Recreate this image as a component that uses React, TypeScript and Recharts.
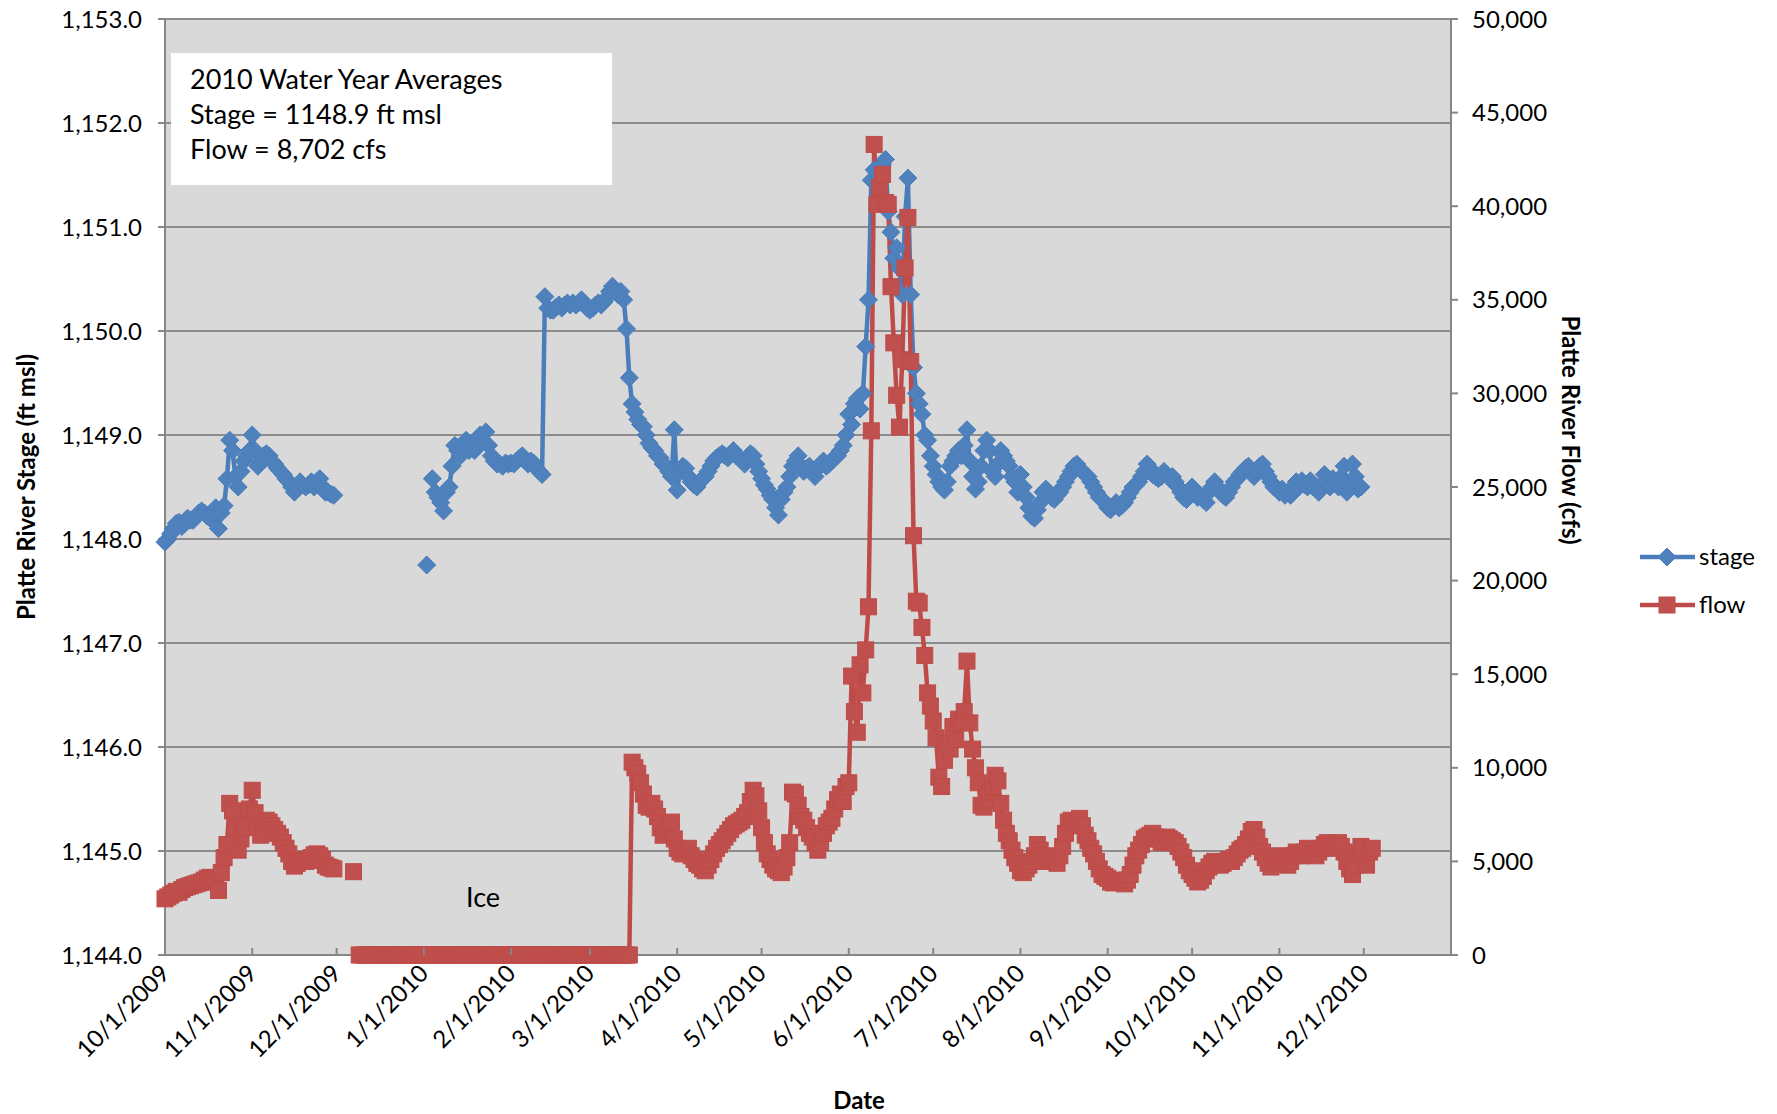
import { ComposedChart, Line, XAxis, YAxis, CartesianGrid } from 'recharts'

// day offsets from 10/1/2009 for each month start (last entry = axis end 1/1/2011)
const monthStarts = [0, 31, 61, 92, 123, 151, 182, 212, 243, 273, 304, 335, 365, 396, 426, 457]
const monthLabels = [
  '10/1/2009', '11/1/2009', '12/1/2009', '1/1/2010', '2/1/2010', '3/1/2010', '4/1/2010',
  '5/1/2010', '6/1/2010', '7/1/2010', '8/1/2010', '9/1/2010', '10/1/2010', '11/1/2010', '12/1/2010',
]

const stageTicks = [1144, 1145, 1146, 1147, 1148, 1149, 1150, 1151, 1152, 1153]
const flowTicks = [0, 5000, 10000, 15000, 20000, 25000, 30000, 35000, 40000, 45000, 50000]

// stage (ft msl), one value per day of each month
const stageOct09 = [1147.97, 1148.0, 1148.05, 1148.1, 1148.15, 1148.16, 1148.12, 1148.15, 1148.2, 1148.18, 1148.18, 1148.22, 1148.25, 1148.27, 1148.25, 1148.22, 1148.2, 1148.25, 1148.3, 1148.1, 1148.25, 1148.32, 1148.58, 1148.95, 1148.85, 1148.6, 1148.5, 1148.65, 1148.75, 1148.8, 1148.85]
const stageNov09 = [1149.0, 1148.85, 1148.7, 1148.75, 1148.8, 1148.82, 1148.8, 1148.75, 1148.72, 1148.68, 1148.65, 1148.62, 1148.58, 1148.55, 1148.5, 1148.45, 1148.5, 1148.55, 1148.52, 1148.5, 1148.52, 1148.55, 1148.5, 1148.55, 1148.58, 1148.5, 1148.45, 1148.45, 1148.43, 1148.42]
const stageDec09: (number | null)[] = []
const stageJan10 = [null, 1147.75, null, 1148.58, 1148.45, 1148.4, 1148.35, 1148.27, 1148.45, 1148.5, 1148.7, 1148.9, 1148.85, 1148.8, 1148.9, 1148.95, 1148.85, 1148.9, 1148.85, 1148.9, 1149.0, 1148.95, 1149.03, 1148.9, 1148.8, 1148.75, 1148.72, 1148.72, 1148.7, 1148.73, 1148.72]
const stageFeb10 = [1148.73, 1148.72, 1148.75, 1148.78, 1148.8, 1148.75, 1148.72, 1148.75, 1148.73, 1148.68, 1148.65, 1148.62, 1150.33, 1150.22, 1150.2, 1150.2, 1150.23, 1150.25, 1150.22, 1150.25, 1150.27, 1150.25, 1150.27, 1150.25, 1150.27, 1150.3, 1150.25, 1150.22]
const stageMar10 = [1150.2, 1150.22, 1150.25, 1150.27, 1150.25, 1150.28, 1150.32, 1150.38, 1150.43, 1150.4, 1150.35, 1150.38, 1150.3, 1150.02, 1149.55, 1149.3, 1149.22, 1149.15, 1149.1, 1149.08, 1149.0, 1148.92, 1148.88, 1148.85, 1148.8, 1148.78, 1148.72, 1148.7, 1148.65, 1148.6, 1149.05]
const stageApr10 = [1148.47, 1148.65, 1148.7, 1148.68, 1148.6, 1148.55, 1148.52, 1148.5, 1148.55, 1148.58, 1148.6, 1148.65, 1148.7, 1148.75, 1148.78, 1148.8, 1148.82, 1148.8, 1148.78, 1148.82, 1148.85, 1148.8, 1148.78, 1148.75, 1148.72, 1148.78, 1148.82, 1148.8, 1148.72, 1148.65]
const stageMay10 = [1148.58, 1148.52, 1148.48, 1148.42, 1148.38, 1148.3, 1148.23, 1148.38, 1148.45, 1148.5, 1148.6, 1148.7, 1148.75, 1148.8, 1148.7, 1148.65, 1148.68, 1148.7, 1148.65, 1148.6, 1148.68, 1148.72, 1148.75, 1148.7, 1148.72, 1148.76, 1148.78, 1148.8, 1148.85, 1148.9, 1149.0]
const stageJun10 = [1149.2, 1149.1, 1149.3, 1149.35, 1149.25, 1149.4, 1149.85, 1150.3, 1151.45, 1151.55, 1151.45, 1151.35, 1151.6, 1151.65, 1151.15, 1150.95, 1150.7, 1150.8, 1150.6, 1150.35, 1151.1, 1151.47, 1150.35, 1149.65, 1149.4, 1149.3, 1149.2, 1149.0, 1148.95, 1148.8]
const stageJul10 = [1148.7, 1148.62, 1148.55, 1148.5, 1148.47, 1148.55, 1148.7, 1148.75, 1148.8, 1148.85, 1148.8, 1148.9, 1149.05, 1148.75, 1148.6, 1148.48, 1148.55, 1148.7, 1148.85, 1148.95, 1148.85, 1148.65, 1148.6, 1148.72, 1148.85, 1148.8, 1148.75, 1148.7, 1148.6, 1148.55, 1148.45]
const stageAug10 = [1148.62, 1148.5, 1148.4, 1148.3, 1148.22, 1148.2, 1148.28, 1148.35, 1148.45, 1148.48, 1148.45, 1148.4, 1148.38, 1148.42, 1148.45, 1148.5, 1148.55, 1148.6, 1148.65, 1148.7, 1148.72, 1148.68, 1148.65, 1148.62, 1148.6, 1148.55, 1148.5, 1148.45, 1148.4, 1148.38, 1148.35]
const stageSep10 = [1148.3, 1148.28, 1148.32, 1148.35, 1148.3, 1148.32, 1148.35, 1148.4, 1148.45, 1148.5, 1148.52, 1148.55, 1148.6, 1148.65, 1148.72, 1148.68, 1148.62, 1148.6, 1148.58, 1148.6, 1148.65, 1148.62, 1148.58, 1148.6, 1148.55, 1148.5, 1148.45, 1148.4, 1148.38, 1148.42]
const stageOct10 = [1148.5, 1148.45, 1148.4, 1148.42, 1148.38, 1148.35, 1148.45, 1148.5, 1148.55, 1148.5, 1148.45, 1148.42, 1148.4, 1148.45, 1148.5, 1148.55, 1148.58, 1148.62, 1148.65, 1148.68, 1148.7, 1148.65, 1148.6, 1148.65, 1148.7, 1148.72, 1148.65, 1148.6, 1148.55, 1148.5, 1148.48]
const stageNov10 = [1148.45, 1148.48, 1148.42, 1148.45, 1148.42, 1148.48, 1148.55, 1148.5, 1148.56, 1148.52, 1148.5, 1148.56, 1148.5, 1148.48, 1148.45, 1148.52, 1148.62, 1148.55, 1148.5, 1148.58, 1148.55, 1148.5, 1148.6, 1148.7, 1148.45, 1148.5, 1148.72, 1148.6, 1148.48, 1148.5]
const stageDec10: (number | null)[] = []

// flow (cfs), one value per day; 0 = ice-affected period
const flowOct09 = [3000, 3100, 3200, 3300, 3400, 3350, 3500, 3600, 3650, 3700, 3750, 3800, 3850, 3900, 4000, 4100, 4150, 4050, 3900, 3450, 4400, 5200, 5900, 8100, 7700, 6800, 5600, 6200, 6800, 7300, 7800]
const flowNov09 = [8800, 7600, 6900, 6400, 6800, 7200, 7100, 6900, 6700, 6500, 6300, 6000, 5700, 5400, 5000, 4750, 4900, 5050, 5100, 5000, 5050, 5200, 5350, 5400, 5300, 5100, 4800, 4700, 4650, 4600]
const flowDec09 = [null, null, null, null, null, null, 4450, null, 0, 0, 0, 0, 0, 0, 0, 0, 0, 0, 0, 0, 0, 0, 0, 0, 0, 0, 0, 0, 0, 0, 0]
const flowJan10 = [0, 0, 0, 0, 0, 0, 0, 0, 0, 0, 0, 0, 0, 0, 0, 0, 0, 0, 0, 0, 0, 0, 0, 0, 0, 0, 0, 0, 0, 0, 0]
const flowFeb10 = [0, 0, 0, 0, 0, 0, 0, 0, 0, 0, 0, 0, 0, 0, 0, 0, 0, 0, 0, 0, 0, 0, 0, 0, 0, 0, 0, 0]
const flowMar10 = [0, 0, 0, 0, 0, 0, 0, 0, 0, 0, 0, 0, 0, 0, 0, 10300, 10000, 9700, 9200, 8600, 8000, 7900, 8100, 7800, 7400, 6800, 6400, 6600, 6900, 7100, 6200]
const flowApr10 = [5700, 5500, 5400, 5600, 5700, 5300, 5100, 4900, 4800, 4600, 4500, 4800, 5100, 5400, 5700, 5900, 6100, 6300, 6500, 6700, 6900, 7000, 7100, 7200, 7400, 7600, 8200, 8800, 8500, 7700]
const flowMay10 = [6800, 6000, 5400, 5100, 4800, 4600, 4500, 4400, 4700, 5200, 6000, 8700, 8600, 8000, 7400, 7200, 6800, 6500, 6300, 6000, 5600, 6000, 6500, 6900, 7100, 7300, 7800, 8300, 8600, 8200, 9000]
const flowJun10 = [9200, 14900, 13000, 11900, 15500, 14000, 16300, 18600, 28000, 43300, 40100, 41000, 41700, 40200, 40100, 35700, 32700, 29900, 28200, 31800, 36700, 39400, 31700, 22400, 18900, 18800, 17500, 16000, 14000, 13300]
const flowJul10 = [12500, 11600, 9500, 9000, 10400, 11300, 11000, 12200, 11500, 12600, 12400, 13000, 15700, 12400, 11000, 10000, 9200, 8000, 7900, 8300, 8700, 9000, 9600, 9300, 8100, 7200, 6500, 6100, 5600, 5200, 4900]
const flowAug10 = [4500, 4400, 4600, 4800, 5000, 5300, 5900, 5600, 5300, 5000, 5100, 5200, 5000, 4900, 5300, 5800, 6500, 7100, 7200, 7100, 7000, 7300, 6900, 6400, 6100, 5700, 5400, 5000, 4600, 4300, 4200]
const flowSep10 = [4100, 3900, 3850, 3900, 4000, 3900, 3800, 4000, 4300, 4800, 5300, 5600, 5900, 6200, 6300, 6400, 6500, 6300, 6200, 6000, 6100, 6300, 6200, 6100, 6000, 5800, 5500, 5200, 4800, 4500]
const flowOct10 = [4300, 4100, 3900, 4000, 4200, 4500, 4700, 4900, 5000, 4900, 4800, 4900, 5000, 5100, 5000, 5200, 5400, 5600, 5700, 5900, 6200, 6600, 6700, 6300, 5800, 5500, 5200, 4900, 4700, 4900, 5100]
const flowNov10 = [5300, 5200, 5000, 4800, 5000, 5300, 5500, 5400, 5300, 5500, 5700, 5600, 5400, 5300, 5500, 5700, 5900, 6000, 5800, 5700, 5900, 6000, 5800, 5500, 5000, 4600, 4300, 4800, 5400, 5800]
const flowDec10 = [5600, 4800, 5500, 5700]

const stageMonths = [stageOct09, stageNov09, stageDec09, stageJan10, stageFeb10, stageMar10, stageApr10, stageMay10, stageJun10, stageJul10, stageAug10, stageSep10, stageOct10, stageNov10, stageDec10]
const flowMonths = [flowOct09, flowNov09, flowDec09, flowJan10, flowFeb10, flowMar10, flowApr10, flowMay10, flowJun10, flowJul10, flowAug10, flowSep10, flowOct10, flowNov10, flowDec10]

const rows: { day: number; stage: number | null; flow: number | null }[] = []
monthLabels.forEach((_, m) => {
  const len = Math.max(stageMonths[m].length, flowMonths[m].length)
  for (let i = 0; i < len; i++) {
    rows.push({
      day: monthStarts[m] + i,
      stage: stageMonths[m][i] ?? null,
      flow: flowMonths[m][i] ?? null,
    })
  }
})

const BLUE = '#4F81BD'
const BLUE_LINE = '#4A7EBB'
const RED = '#C0504D'
const RED_LINE = '#BE4B48'
const FONT = 'Lato, "Open Sans", sans-serif'

const Diamond = (props: any) => {
  const { cx, cy, payload, index } = props
  if (payload?.stage == null || cy == null) return <g key={`sd-${index}`} />
  const r = 9
  return (
    <path
      key={`sd-${index}`}
      d={`M${cx},${cy - r}L${cx + r},${cy}L${cx},${cy + r}L${cx - r},${cy}Z`}
      fill={BLUE}
      stroke={BLUE_LINE}
      strokeWidth={1}
    />
  )
}

const Square = (props: any) => {
  const { cx, cy, payload, index } = props
  if (payload?.flow == null || cy == null) return <g key={`fs-${index}`} />
  const h = 8
  return (
    <rect
      key={`fs-${index}`}
      x={cx - h}
      y={cy - h}
      width={h * 2}
      height={h * 2}
      fill={RED}
      stroke={RED_LINE}
      strokeWidth={1}
    />
  )
}

const DateTick = ({ x, y, payload }: any) => {
  const idx = monthStarts.indexOf(payload.value)
  const ax = x + 6
  const ay = y + 20
  return (
    <g>
      <line x1={x} x2={x} y1={y - 7} y2={y} stroke="#868686" strokeWidth={2} />
      <text
        x={ax}
        y={ay}
        transform={`rotate(-45 ${ax} ${ay})`}
        textAnchor="end"
        fontSize={24}
        fontFamily={FONT}
        fill="#000"
      >
        {monthLabels[idx]}
      </text>
    </g>
  )
}

export default function App() {
  return (
    <div style={{ position: 'absolute', left: 0, top: 0, width: 1777, height: 1114, background: '#fff', fontFamily: FONT }}>
      <ComposedChart width={1777} height={1114} data={rows} margin={{ top: 19, right: 0, bottom: 0, left: 0 }}>
        <CartesianGrid yAxisId="left" vertical={false} stroke="#8C8C8C" strokeWidth={2} fill="#D9D9D9" />
        <XAxis
          dataKey="day"
          type="number"
          domain={[0, 457]}
          ticks={monthStarts.slice(0, 15)}
          interval={0}
          height={159}
          tickSize={0}
          tickMargin={0}
          tickLine={false}
          tick={<DateTick />}
          axisLine={{ stroke: '#868686', strokeWidth: 2 }}
        />
        <YAxis
          yAxisId="left"
          domain={[1144, 1153]}
          ticks={stageTicks}
          interval={0}
          width={165}
          tickSize={7}
          tickMargin={16}
          tickLine={{ stroke: '#868686', strokeWidth: 2 }}
          axisLine={{ stroke: '#868686', strokeWidth: 2 }}
          tick={{ fontSize: 24, fill: '#000', fontFamily: FONT }}
          tickFormatter={(v: number) => v.toLocaleString('en-US', { minimumFractionDigits: 1, maximumFractionDigits: 1 })}
        />
        <YAxis
          yAxisId="right"
          orientation="right"
          domain={[0, 50000]}
          ticks={flowTicks}
          interval={0}
          width={326}
          tickSize={7}
          tickMargin={14}
          tickLine={{ stroke: '#868686', strokeWidth: 2 }}
          axisLine={{ stroke: '#868686', strokeWidth: 2 }}
          tick={{ fontSize: 24, fill: '#000', fontFamily: FONT, textAnchor: 'start' }}
          tickFormatter={(v: number) => v.toLocaleString('en-US')}
        />
        <Line
          yAxisId="left"
          dataKey="stage"
          stroke={BLUE_LINE}
          strokeWidth={4.5}
          dot={Diamond}
          activeDot={false}
          connectNulls={false}
          isAnimationActive={false}
        />
        <Line
          yAxisId="right"
          dataKey="flow"
          stroke={RED_LINE}
          strokeWidth={4.5}
          dot={Square}
          activeDot={false}
          connectNulls={false}
          isAnimationActive={false}
        />
      </ComposedChart>

      {/* averages text box */}
      <div
        style={{
          position: 'absolute', left: 171, top: 53, width: 441, height: 132, background: '#fff',
          boxSizing: 'border-box', padding: '8px 0 0 19px', fontSize: 27, lineHeight: '35px', color: '#000',
        }}
      >
        <div>2010 Water Year Averages</div>
        <div>Stage = 1148.9 ft msl</div>
        <div>Flow = 8,702 cfs</div>
      </div>

      <div style={{ position: 'absolute', left: 466, top: 880, fontSize: 27, color: '#000' }}>Ice</div>

      {/* axis titles */}
      <div
        style={{
          position: 'absolute', left: 25, top: 487, transform: 'translate(-50%, -50%) rotate(-90deg)',
          whiteSpace: 'nowrap', fontSize: 24, fontWeight: 700, color: '#000',
        }}
      >
        Platte River Stage (ft msl)
      </div>
      <div
        style={{
          position: 'absolute', left: 1571, top: 430, transform: 'translate(-50%, -50%) rotate(90deg)',
          whiteSpace: 'nowrap', fontSize: 24, fontWeight: 700, color: '#000',
        }}
      >
        Platte River Flow (cfs)
      </div>
      <div
        style={{
          position: 'absolute', left: 859, top: 1099, transform: 'translate(-50%, -50%)',
          fontSize: 24, fontWeight: 700, color: '#000',
        }}
      >
        Date
      </div>

      {/* legend */}
      <svg style={{ position: 'absolute', left: 1630, top: 530 }} width={147} height={100}>
        <line x1={10} x2={65} y1={27} y2={27} stroke={BLUE_LINE} strokeWidth={4.5} />
        <path d="M37,18L46,27L37,36L28,27Z" fill={BLUE} stroke={BLUE_LINE} />
        <text x={69} y={35} fontSize={24} fontFamily={FONT} fill="#000">stage</text>
        <line x1={10} x2={65} y1={75} y2={75} stroke={RED_LINE} strokeWidth={4.5} />
        <rect x={29} y={67} width={16} height={16} fill={RED} stroke={RED_LINE} />
        <text x={69} y={83} fontSize={24} fontFamily={FONT} fill="#000">flow</text>
      </svg>
    </div>
  )
}
